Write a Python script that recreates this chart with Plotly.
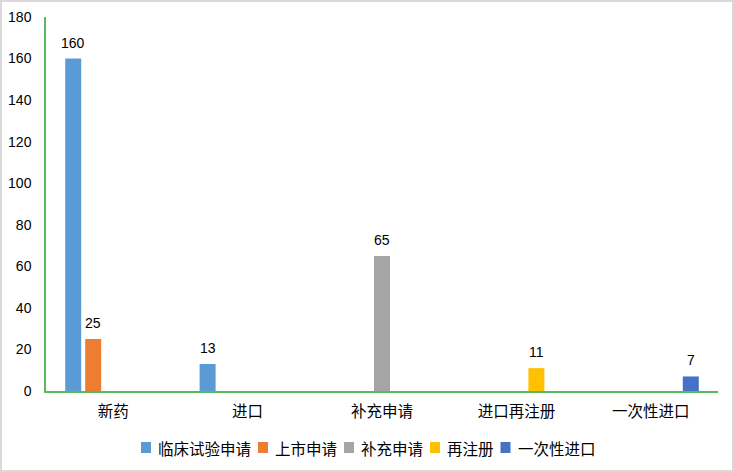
import plotly.graph_objects as go

# categories on the x axis
categories = ["新药", "进口", "补充申请", "进口再注册", "一次性进口"]

# one list per series, None where the category has no bar
clinical = [160, 13, None, None, None]
market = [25, None, None, None, None]
supplement = [None, None, 65, None, None]
reregister = [None, None, None, 11, None]
one_time = [None, None, None, None, 7]

series_names = ["临床试验申请", "上市申请", "补充申请", "再注册", "一次性进口"]
series_values = [clinical, market, supplement, reregister, one_time]
colors = ["#5B9BD5", "#ED7D31", "#A5A5A5", "#FFC000", "#4472C4"]

y_ticks = list(range(0, 181, 20))

font_cjk = "Noto Sans CJK SC, sans-serif"
font_num = "Liberation Sans, sans-serif"

# page size and margins matched to the reference plot area
W, H = 734, 472
ml, mr, mt, mb = 46, 16, 17, 81
pw, ph = W - ml - mr, H - mt - mb
bargap = 0.256
n_series = len(series_names)
slot_px = pw / len(categories) * (1 - bargap) / n_series


def px_x(p):
    return (p - ml) / pw


def px_y(p):
    return 1 - (p - mt) / ph


fig = go.Figure()
for name, vals, col in zip(series_names, series_values, colors):
    fig.add_trace(go.Bar(
        x=categories,
        y=vals,
        name=name,
        marker=dict(color=col, line=dict(width=0)),
        showlegend=False,
        hoverinfo="x+y+name",
    ))

annotations = []
# value labels above bars
for i, vals in enumerate(series_values):
    for cat, v in zip(categories, vals):
        if v is None:
            continue
        annotations.append(dict(
            x=cat, y=v, xref="x", yref="y",
            text=str(v), showarrow=False,
            xshift=(i - (n_series - 1) / 2) * slot_px,
            yshift=16, yanchor="middle",
            font=dict(size=14, family=font_num, color="#000000"),
        ))

# hand-built legend so the spacing matches the reference
shapes = []
char_w = 15.5
leg_x = 141
leg_y = 447.5
for name, col in zip(series_names, colors):
    shapes.append(dict(
        type="rect", xref="paper", yref="paper",
        x0=px_x(leg_x), x1=px_x(leg_x + 10),
        y0=px_y(leg_y + 5.5), y1=px_y(leg_y - 5.5),
        fillcolor=col, line=dict(width=0),
    ))
    annotations.append(dict(
        x=px_x(leg_x + 15), y=px_y(leg_y), xref="paper", yref="paper",
        text=name, showarrow=False, xanchor="left", yanchor="middle",
        font=dict(size=15.5, family=font_cjk, color="#000000"),
    ))
    leg_x += 16 + char_w * len(name) + 8

# light gray chart border
shapes.append(dict(
    type="rect", xref="paper", yref="paper",
    x0=px_x(1), x1=px_x(W - 1),
    y0=px_y(H - 1), y1=px_y(1),
    line=dict(color="#D9D9D9", width=2),
    fillcolor="rgba(0,0,0,0)",
    layer="below",
))

fig.update_layout(
    width=W,
    height=H,
    barmode="group",
    bargap=bargap,
    bargroupgap=0.2,
    margin=dict(l=ml, r=mr, t=mt, b=mb),
    paper_bgcolor="white",
    plot_bgcolor="white",
    font=dict(family=font_cjk, color="#000000"),
    showlegend=False,
    xaxis=dict(
        showline=True,
        linecolor="#5CB85C",
        linewidth=1.5,
        ticks="",
        ticklabelstandoff=6,
        tickfont=dict(size=15.5, family=font_cjk),
        showgrid=False,
        automargin=False,
    ),
    yaxis=dict(
        range=[0, 180],
        tickvals=y_ticks,
        showline=True,
        linecolor="#5CB85C",
        linewidth=1.5,
        showgrid=False,
        zeroline=False,
        ticks="",
        ticklabelstandoff=10,
        tickfont=dict(size=14, family=font_num),
        automargin=False,
    ),
    annotations=annotations,
    shapes=shapes,
)

# drop the browser's default 8px body margin so the figure sits at the page corner
fig.write_html("out.html", config={"displayModeBar": False},
               post_script="document.body.style.margin='0';")
